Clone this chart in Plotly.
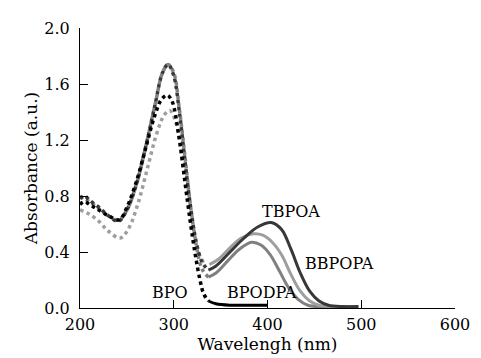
import plotly.graph_objects as go

# BPO (black)
bpo_x = [200, 205, 210, 215, 220, 230, 242, 250, 260, 270, 280, 287, 293, 298, 305, 312, 318, 323, 328, 332, 337, 345, 360, 380, 400]
bpo_y = [0.74, 0.76, 0.74, 0.72, 0.70, 0.66, 0.63, 0.72, 0.90, 1.14, 1.38, 1.49, 1.52, 1.48, 1.25, 0.90, 0.60, 0.38, 0.20, 0.10, 0.05, 0.03, 0.02, 0.02, 0.02]

# TBPOA (dark gray)
tbpoa_x = [200, 205, 210, 220, 230, 241, 250, 260, 270, 280, 288, 294, 300, 306, 312, 318, 324, 330, 337, 345, 360, 375, 390, 404, 415, 425, 435, 445, 455, 465, 480, 497]
tbpoa_y = [0.78, 0.80, 0.77, 0.72, 0.66, 0.62, 0.70, 0.88, 1.15, 1.45, 1.68, 1.74, 1.66, 1.40, 1.05, 0.72, 0.47, 0.33, 0.27, 0.30, 0.40, 0.50, 0.58, 0.61, 0.56, 0.42, 0.25, 0.12, 0.05, 0.02, 0.01, 0.01]

# BBPOPA (light gray)
bbpopa_x = [200, 210, 220, 230, 243, 252, 262, 272, 282, 290, 296, 302, 308, 314, 320, 326, 332, 338, 348, 360, 372, 385, 395, 405, 415, 425, 435, 445, 455, 470, 497]
bbpopa_y = [0.70, 0.67, 0.62, 0.55, 0.50, 0.57, 0.75, 1.00, 1.25, 1.38, 1.41, 1.33, 1.10, 0.80, 0.55, 0.40, 0.32, 0.31, 0.35, 0.43, 0.50, 0.53, 0.52, 0.47, 0.38, 0.24, 0.12, 0.05, 0.02, 0.01, 0.01]

# BPODPA (medium gray)
bpodpa_x = [200, 205, 210, 220, 230, 241, 250, 260, 270, 280, 288, 294, 300, 306, 312, 318, 324, 330, 337, 345, 358, 370, 383, 393, 403, 413, 423, 433, 443, 460, 490]
bpodpa_y = [0.80, 0.78, 0.76, 0.71, 0.66, 0.63, 0.70, 0.88, 1.15, 1.45, 1.68, 1.74, 1.68, 1.42, 1.08, 0.72, 0.45, 0.28, 0.22, 0.25, 0.34, 0.42, 0.47, 0.45, 0.38, 0.26, 0.14, 0.06, 0.02, 0.01, 0.01]

x_ticks = [200, 300, 400, 500, 600]
y_ticks = [0.0, 0.4, 0.8, 1.2, 1.6, 2.0]

labels = ["TBPOA", "BBPOPA", "BPO", "BPODPA"]
label_x = [425, 477, 296, 394]
label_y = [0.69, 0.32, 0.11, 0.11]

font = "DejaVu Serif"
SPLIT = 337  # wavelength where the dotted UV part meets the solid visible part

fig = go.Figure()
series = [
    (bpodpa_x, bpodpa_y, "#808080"),
    (bbpopa_x, bbpopa_y, "#9e9e9e"),
    (tbpoa_x, tbpoa_y, "#383838"),
    (bpo_x, bpo_y, "#000000"),
]
for xs, ys, col in series:
    uv = [i for i, v in enumerate(xs) if v <= SPLIT]
    vis = [i for i, v in enumerate(xs) if v >= SPLIT]
    fig.add_trace(go.Scatter(x=[xs[i] for i in uv], y=[ys[i] for i in uv], mode="lines",
                             line=dict(color=col, width=3.5, shape="spline", dash="dot")))
    fig.add_trace(go.Scatter(x=[xs[i] for i in vis], y=[ys[i] for i in vis], mode="lines",
                             line=dict(color=col, width=3, shape="spline")))

for t, lx, ly in zip(labels, label_x, label_y):
    fig.add_annotation(x=lx, y=ly, text=t, showarrow=False,
                       font=dict(family=font, size=16, color="black"))

fig.update_layout(
    width=473, height=350,
    margin=dict(l=72, r=19, t=11, b=50),
    paper_bgcolor="white", plot_bgcolor="white",
    showlegend=False,
    font=dict(family=font, size=16, color="black"),
)
fig.update_xaxes(range=[200, 600], tickvals=x_ticks, ticks="inside", ticklen=8,
                 tickcolor="black", showline=True, linecolor="black", linewidth=1,
                 showgrid=False, zeroline=False, ticklabelstandoff=2,
                 title=dict(text="Wavelengh (nm)", standoff=0, font=dict(size=17)))
fig.update_yaxes(range=[0, 2.0], tickvals=y_ticks, tickformat=".1f", ticks="inside",
                 ticklen=8, tickcolor="black", showline=True, linecolor="black",
                 linewidth=1, showgrid=False, zeroline=False, ticklabelstandoff=6,
                 title=dict(text="Absorbance (a.u.)", standoff=2, font=dict(size=17)))

fig.write_html("out.html")
